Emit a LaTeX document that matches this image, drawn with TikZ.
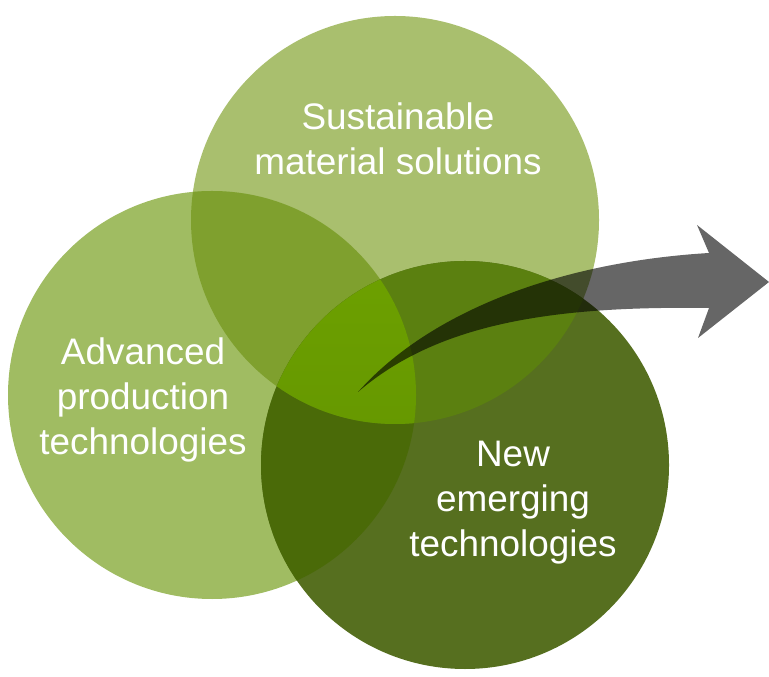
\documentclass[tikz,border=0pt]{standalone}
\usepackage{fontspec}
\setmainfont{Liberation Sans}

\definecolor{colL}{RGB}{160,188,98}
\definecolor{colT}{RGB}{169,191,110}
\definecolor{colB}{RGB}{86,111,31}
\definecolor{colLT}{RGB}{127,160,46}
\definecolor{colLB}{RGB}{74,106,8}
\definecolor{colTB}{RGB}{91,128,16}
\definecolor{colTopMid}{RGB}{112,164,0}
\definecolor{colBotMid}{RGB}{95,144,0}

\tikzset{
  label/.style={text=white, align=center, font=\fontsize{10.5}{12.8}\selectfont}
}

\begin{document}
\begin{tikzpicture}
            \useasboundingbox (0,0) rectangle (7.69,6.76);

            \coordinate (L) at (2.12,2.81);
            \coordinate (T) at (3.95,4.56);
            \coordinate (B) at (4.65,2.11);
            \def\rad{2.04}

            % the three circles
            \fill[colT] (T) circle (\rad);
            \fill[colL] (L) circle (\rad);
            \fill[colB] (B) circle (\rad);

            % overlaps
            \begin{scope}
                \clip (L) circle (\rad);
                \fill[colLT] (T) circle (\rad);
                \fill[colLB] (B) circle (\rad);
            \end{scope}
            \begin{scope}
                \clip (T) circle (\rad);
                \fill[colTB] (B) circle (\rad);
                \clip (B) circle (\rad);
                \shade[top color=colTopMid, bottom color=colBotMid] (L) circle (\rad);
            \end{scope}

            % curved arrow
            \fill[black, opacity=0.6] (3.58,2.84)
                .. controls (4.3,3.65) and (5.6,4.14) .. (7.09,4.23)
                -- (6.97,4.51) -- (7.69,3.94) -- (6.98,3.38) -- (7.09,3.68)
                .. controls (5.6,3.70) and (4.4,3.55) .. cycle;

            \node[label] (sust) at (3.98,5.37) {Sustainable\\material solutions};
            \node[label] (adv) at (1.43,2.76) {Advanced\\production\\technologies};
            \node[label] (new) at (5.13,1.73) {New\\emerging\\technologies};
        \end{tikzpicture}
\end{document}
